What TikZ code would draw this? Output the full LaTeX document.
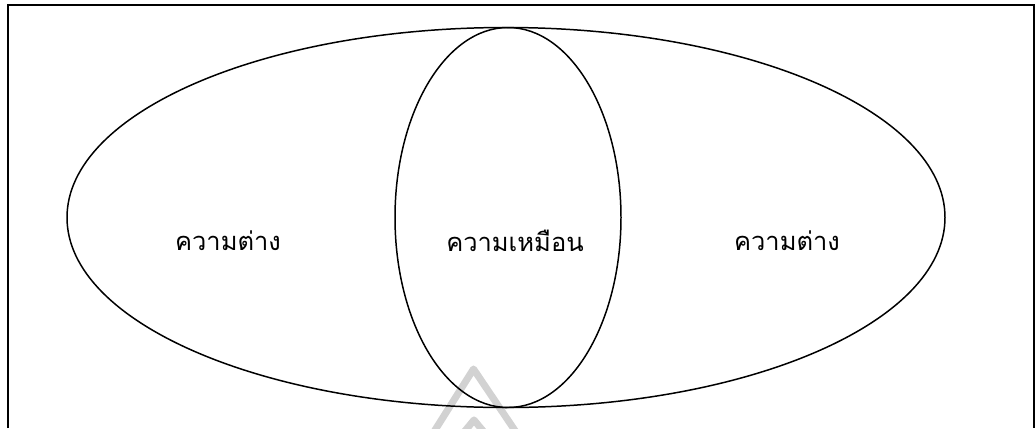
\documentclass[tikz,border=0pt]{standalone}
\usepackage{fontspec}
\newfontfamily\thaifont[Script=Thai]{Loma}
\usepackage{tikz}

\begin{document}
\begin{tikzpicture}[line width=0.85pt]
  \useasboundingbox (0,0) rectangle (20.72,8.56);
  \coordinate (BL) at (0.16,0); \coordinate (TL) at (0.16,8.46);
  \coordinate (TR) at (20.68,8.46); \coordinate (BR) at (20.68,0);
  \draw[line width=0.95pt] (BL) -- (TL) -- (TR) -- (BR);
  % watermark
  \draw[gray!35, line width=4pt, line join=round] (8.6,-0.2) -- (9.47,1.18) -- (10.4,-0.2);
  \draw[gray!35, line width=4pt, line join=round] (9.1,-0.3) -- (9.48,0.16) -- (9.86,-0.3);
  \coordinate (O) at (10.12,4.21); \coordinate (M) at (10.16,4.21);
  \draw (O) ellipse [x radius=8.78, y radius=3.8];
  \draw (M) ellipse [x radius=2.26, y radius=3.8];
  \node[font=\thaifont\fontsize{14.5}{16}\selectfont] (left) at (4.56,3.74) {ความต่าง};
  \node[font=\thaifont\fontsize{14.5}{16}\selectfont] (mid) at (10.3,3.74) {ความเหมือน};
  \node[font=\thaifont\fontsize{14.5}{16}\selectfont] (right) at (15.74,3.74) {ความต่าง};
\end{tikzpicture}
\end{document}
